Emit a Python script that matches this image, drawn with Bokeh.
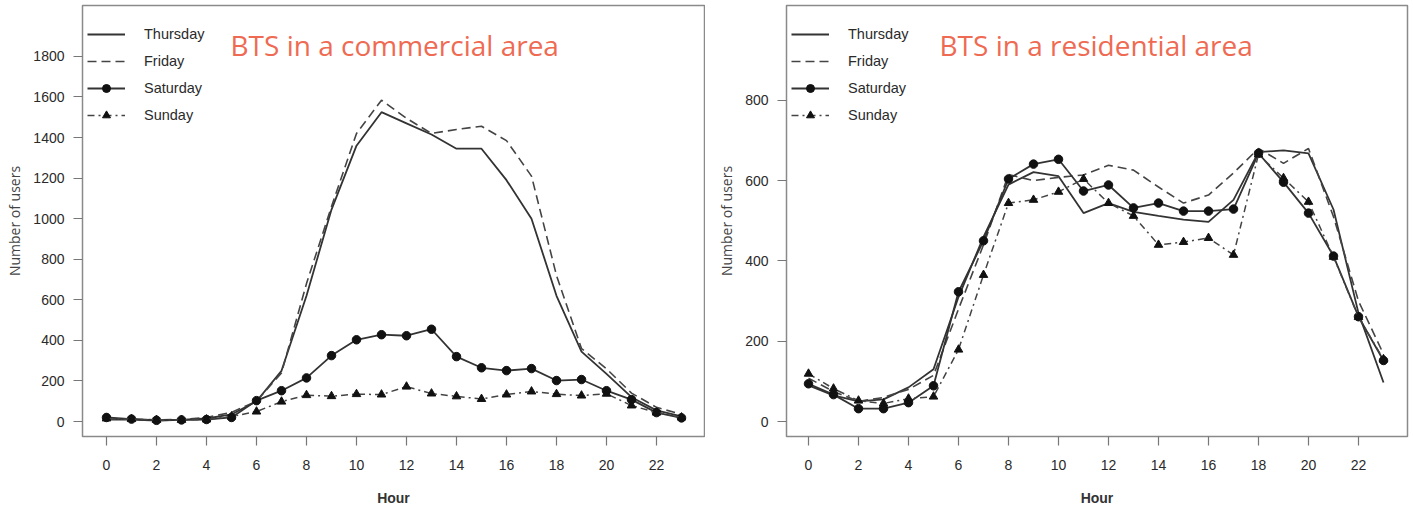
from bokeh.plotting import figure
from bokeh.layouts import row
from bokeh.models import Range1d, FixedTicker, Label
from bokeh.embed import file_html
from bokeh.resources import INLINE

# ---------------- data ----------------
hours = list(range(24))
x_ticks = list(range(0, 23, 2))
y_ticks_commercial = list(range(0, 1801, 200))
y_ticks_residential = list(range(0, 801, 200))
days = ["Thursday", "Friday", "Saturday", "Sunday"]

titles = ["BTS in a commercial area", "BTS in a residential area"]
x_label = "Hour"
y_label = "Number of users"

thu_commercial = [10, 10, 5, 8, 15, 35, 100, 250, 620, 1045, 1360, 1525, 1470, 1415,
                  1345, 1345, 1190, 1000, 620, 345, 235, 120, 55, 25]
fri_commercial = [12, 12, 8, 10, 20, 45, 100, 240, 680, 1060, 1420, 1584, 1495, 1420,
                  1440, 1456, 1385, 1210, 720, 360, 260, 140, 70, 35]
sat_commercial = [20, 12, 6, 8, 10, 20, 103, 152, 215, 325, 403, 428, 423, 455,
                  320, 265, 251, 261, 202, 207, 152, 108, 44, 18]
sun_commercial = [15, 12, 8, 8, 10, 25, 49, 98, 130, 125, 135, 133, 172, 138,
                  124, 111, 133, 148, 135, 128, 137, 79, 44, 20]

thu_residential = [90, 65, 50, 55, 85, 130, 310, 460, 590, 621, 611, 519, 544, 522,
                   512, 503, 497, 552, 671, 675, 668, 528, 270, 97]
fri_residential = [108, 75, 50, 60, 80, 115, 280, 440, 615, 600, 608, 614, 638, 626,
                   584, 544, 564, 619, 680, 643, 680, 510, 300, 168]
sat_residential = [94, 67, 32, 32, 47, 89, 323, 450, 604, 641, 653, 574, 589, 532,
                   544, 524, 524, 529, 668, 596, 519, 412, 261, 152]
sun_residential = [119, 82, 52, 45, 57, 62, 179, 365, 544, 552, 572, 604, 544, 512,
                   440, 447, 457, 415, 665, 606, 547, 410, 260, 155]

# ---------------- style ----------------
LINE = "#333333"
MARK = "#111111"
TXT = "#2a2a2a"
TITLE_COLOR = "#EF6A52"
FONT = "Liberation Sans"


def make_panel(series, y_ticks, y_range, x_range, width, border_left, border_right,
               title, title_x):
    p = figure(width=width, height=508, output_backend="svg", toolbar_location=None,
               x_range=Range1d(*x_range), y_range=Range1d(*y_range),
               min_border_left=border_left, min_border_right=border_right,
               min_border_top=5, min_border_bottom=71)
    p.background_fill_color = "white"
    p.border_fill_color = "white"
    p.grid.visible = False
    p.outline_line_color = "#8a8a8a"
    p.outline_line_width = 1.5

    thu, fri, sat, sun = series
    p.line(hours, thu, line_color=LINE, line_width=1.8, legend_label=days[0])
    p.line(hours, fri, line_color="#444444", line_width=1.6, line_dash="9 5",
           legend_label=days[1])
    p.line(hours, sat, line_color=LINE, line_width=1.8, legend_label=days[2])
    p.scatter(hours, sat, marker="circle", size=8.5, fill_color=MARK, line_color=MARK,
              legend_label=days[2])
    p.line(hours, sun, line_color="#444444", line_width=1.5, line_dash="7 4 2 4",
           legend_label=days[3])
    p.scatter(hours, sun, marker="triangle", size=8.5, fill_color=MARK, line_color=MARK,
              legend_label=days[3])

    for ax in (p.xaxis, p.yaxis):
        ax.axis_line_color = None
        ax.major_tick_in = 0
        ax.major_tick_out = 9
        ax.major_tick_line_color = "#777777"
        ax.major_tick_line_width = 1.2
        ax.minor_tick_line_color = None
        ax.major_label_text_font = FONT
        ax.major_label_text_font_size = "14px"
        ax.major_label_text_color = TXT
    p.xaxis.ticker = FixedTicker(ticks=x_ticks)
    p.yaxis.ticker = FixedTicker(ticks=y_ticks)
    p.xaxis.major_label_standoff = 14
    p.yaxis.major_label_standoff = 9

    p.xaxis.axis_label = x_label
    p.xaxis.axis_label_text_font = FONT
    p.xaxis.axis_label_text_font_size = "14px"
    p.xaxis.axis_label_text_font_style = "bold"
    p.xaxis.axis_label_text_color = "#333333"
    p.xaxis.axis_label_standoff = 17

    p.yaxis.axis_label = y_label
    p.yaxis.axis_label_text_font = "Open Sans"
    p.yaxis.axis_label_text_font_size = "14px"
    p.yaxis.axis_label_text_font_style = "normal"
    p.yaxis.axis_label_text_color = "#444444"
    p.yaxis.axis_label_standoff = 6

    lg = p.legend[0]
    lg.location = (5, 311)
    lg.border_line_color = None
    lg.background_fill_alpha = 0
    lg.padding = 0
    lg.margin = 0
    lg.spacing = 7
    lg.glyph_width = 38
    lg.glyph_height = 20
    lg.label_height = 20
    lg.label_standoff = 19
    lg.label_text_font = FONT
    lg.label_text_font_size = "14.5px"
    lg.label_text_color = TXT

    p.add_layout(Label(x=title_x, y=392, x_units="screen", y_units="screen", text=title,
                       text_font="Open Sans", text_font_size="28px",
                       text_color=TITLE_COLOR, text_baseline="alphabetic"))
    return p


p1 = make_panel([thu_commercial, fri_commercial, sat_commercial, sun_commercial],
                y_ticks_commercial, (-73.8, 2051), (-0.96, 23.92), 705, 82, 1,
                titles[0], 148)
p2 = make_panel([thu_residential, fri_residential, sat_residential, sun_residential],
                y_ticks_residential, (-37.3, 1036), (-0.88, 23.96), 708, 81, 6,
                titles[1], 153)

layout = row(p1, p2, spacing=0)
open("out.html", "w").write(file_html(layout, INLINE))
